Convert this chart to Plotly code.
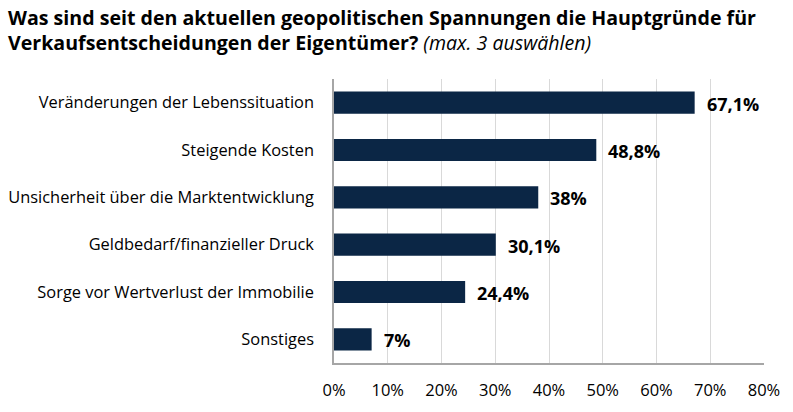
import plotly.graph_objects as go

categories = [
    "Veränderungen der Lebenssituation",
    "Steigende Kosten",
    "Unsicherheit über die Marktentwicklung",
    "Geldbedarf/finanzieller Druck",
    "Sorge vor Wertverlust der Immobilie",
    "Sonstiges",
]
values = [67.1, 48.8, 38, 30.1, 24.4, 7]
tick_vals = [0, 10, 20, 30, 40, 50, 60, 70, 80]
tick_text = [f"{v}%" for v in tick_vals]

def fmt(v):
    s = f"{v:g}".replace(".", ",")
    return s + "%"

labels = [fmt(v) for v in values]
FONT = "Open Sans, Segoe UI, sans-serif"

W, H = 793, 412
ML, MR, MT, MB = 334, 29, 79, 49
PW, PH = W - ML - MR, H - MT - MB

fig = go.Figure()
fig.add_trace(go.Bar(
    y=categories, x=values, orientation="h",
    marker=dict(color="#0b2645", line=dict(width=0)),
    hoverinfo="skip",
))
for c, v, t in zip(categories, values, labels):
    fig.add_annotation(x=v, y=c, text=f"<b>{t}</b>", showarrow=False,
                       xanchor="left", xshift=10, yshift=-1,
                       font=dict(family=FONT, size=18, color="#000000"))

fig.add_annotation(
    xref="paper", yref="paper",
    x=(6 - ML) / PW, y=(H - MB - 2) / PH,
    text="<b>Was sind seit den aktuellen geopolitischen Spannungen die Hauptgründe für</b><br>"
         "<b>Verkaufsentscheidungen der Eigentümer?</b> <i>(max. 3 auswählen)</i>",
    showarrow=False, xanchor="left", yanchor="top", align="left",
    font=dict(family=FONT, size=19.6, color="#000000"),
)

fig.update_layout(
    width=W, height=H,
    margin=dict(l=ML, r=MR, t=MT, b=MB, autoexpand=False),
    paper_bgcolor="white", plot_bgcolor="white",
    bargap=0.53,
    showlegend=False,
    font=dict(family=FONT, color="#000000"),
)
fig.update_xaxes(
    range=[0, 80], tickvals=tick_vals, ticktext=tick_text,
    showgrid=True, gridcolor="#d9d9d9", gridwidth=1,
    showline=True, linecolor="#a6a6a6", linewidth=1.5,
    ticks="", ticklabelstandoff=11, zeroline=False,
    tickfont=dict(family=FONT, size=16.5, color="#000000"),
    fixedrange=True, automargin=False,
)
fig.update_yaxes(
    autorange="reversed",
    showline=True, linecolor="#a6a6a6", linewidth=1.5,
    ticks="", ticklabelstandoff=15,
    tickfont=dict(family=FONT, size=16.4, color="#000000"),
    fixedrange=True, automargin=False,
)
fig.write_html("out.html")
